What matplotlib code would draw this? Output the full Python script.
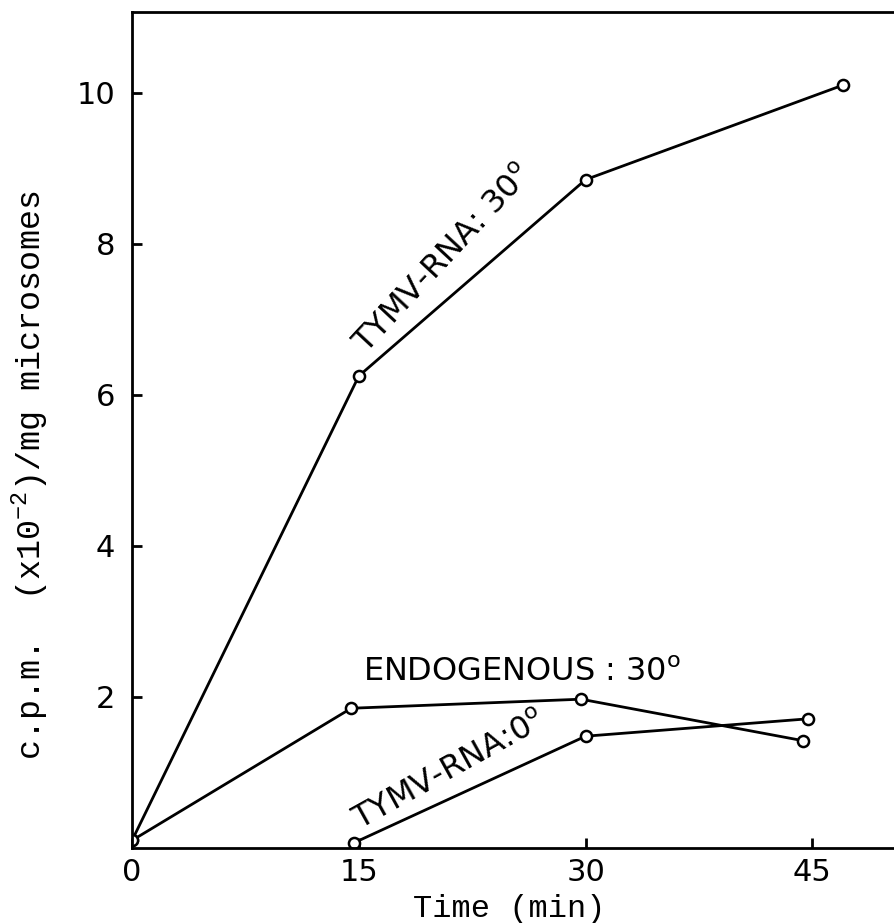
import matplotlib.pyplot as plt

# data
tymv30_t = [0, 15, 30, 47]
tymv30_cpm = [0.1, 6.25, 8.85, 10.1]

endo30_t = [0, 14.5, 29.7, 44.4]
endo30_cpm = [0.1, 1.85, 1.97, 1.42]

tymv0_t = [14.7, 30, 44.7]
tymv0_cpm = [0.07, 1.48, 1.71]

xticks = [0, 15, 30, 45]
yticks = [2, 4, 6, 8, 10]

fig = plt.figure(figsize=(8.94, 9.23), dpi=100)
ax = fig.add_axes([0.1477, 0.0813, 0.8523, 0.9057])

mk = dict(color='black', lw=2, marker='o', markersize=8,
          markerfacecolor='white', markeredgecolor='black', markeredgewidth=1.8)
ax.plot(tymv30_t, tymv30_cpm, **mk)
ax.plot(endo30_t, endo30_cpm, **mk)
ax.plot(tymv0_t, tymv0_cpm, **mk)

ax.set_xlim(0, 50.4)
ax.set_ylim(0, 11.07)
ax.set_xticks(xticks)
ax.set_yticks(yticks)
ax.tick_params(direction='in', length=7, width=2, labelsize=22)
ax.tick_params(axis='x', pad=7)
ax.tick_params(axis='y', pad=12)
for s in ['left', 'bottom', 'top']:
    ax.spines[s].set_linewidth(2)
ax.spines['right'].set_visible(False)

ax.set_ylabel(r'c.p.m.  (x10$^{\mathregular{-2}}$)/mg microsomes',
              family='Liberation Mono', fontsize=24, va='center')
ax.yaxis.set_label_coords(-0.134, 0.446)
ax.set_xlabel('Time (min)', family='Liberation Mono', fontsize=23, va='center')
ax.xaxis.set_label_coords(0.495, -0.073)

lab = dict(fontsize=23, ha='center', va='center', rotation_mode='anchor')
ax.text(20.6, 7.8, r'TYMV-RNA: 30$^{\mathregular{o}}$', rotation=47, **lab)
ax.text(25.8, 2.32, r'ENDOGENOUS : 30$^{\mathregular{o}}$', rotation=0, **lab)
ax.text(21.0, 1.02, r'TYMV-RNA:0$^{\mathregular{o}}$', rotation=29, **lab)

fig.savefig('out.png', dpi=100)
